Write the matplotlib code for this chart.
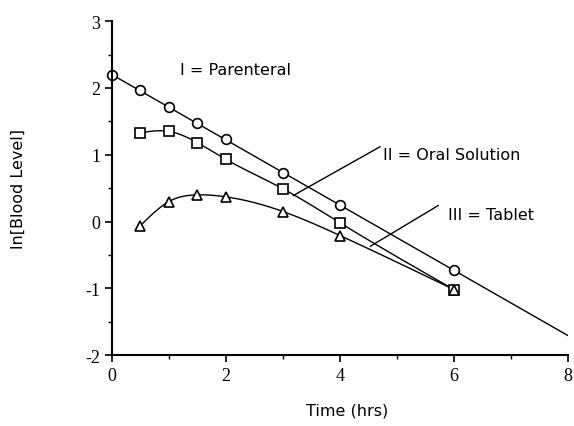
import numpy as np
import matplotlib
matplotlib.use("Agg")
import matplotlib.pyplot as plt

plt.rcParams["axes.unicode_minus"] = False

# data
t_par = [0, 0.5, 1, 1.5, 2, 3, 4, 6]
y_par = [2.2, 1.97, 1.72, 1.48, 1.23, 0.72, 0.25, -0.72]

t_oral = [0.5, 1, 1.5, 2, 3, 4, 6]
y_oral = [1.33, 1.35, 1.18, 0.93, 0.49, -0.02, -1.02]

t_tab = [0.5, 1, 1.5, 2, 3, 4, 6]
y_tab = [-0.06, 0.30, 0.40, 0.37, 0.15, -0.21, -1.02]

par_line_t = [0, 8]
par_line_y = [2.2, -1.71]


def spline(x, y, n=200):
    # natural cubic spline through the points
    x = np.asarray(x, float)
    y = np.asarray(y, float)
    m = len(x)
    h = np.diff(x)
    A = np.zeros((m, m))
    b = np.zeros(m)
    A[0, 0] = A[-1, -1] = 1
    for i in range(1, m - 1):
        A[i, i - 1] = h[i - 1]
        A[i, i] = 2 * (h[i - 1] + h[i])
        A[i, i + 1] = h[i]
        b[i] = 6 * ((y[i + 1] - y[i]) / h[i] - (y[i] - y[i - 1]) / h[i - 1])
    M = np.linalg.solve(A, b)
    xs = np.linspace(x[0], x[-1], n)
    idx = np.clip(np.searchsorted(x, xs) - 1, 0, m - 2)
    x0, x1 = x[idx], x[idx + 1]
    hh = x1 - x0
    ys = (M[idx] * (x1 - xs) ** 3 / (6 * hh) + M[idx + 1] * (xs - x0) ** 3 / (6 * hh)
          + (y[idx] / hh - M[idx] * hh / 6) * (x1 - xs)
          + (y[idx + 1] / hh - M[idx + 1] * hh / 6) * (xs - x0))
    return xs, ys


fig = plt.figure(figsize=(5.74, 4.27), dpi=100)
ax = fig.add_axes([0.195, 0.166, 0.795, 0.782])

ax.plot(par_line_t, par_line_y, color="black", lw=1)
xs, ys = spline(t_oral, y_oral)
ax.plot(xs, ys, color="black", lw=1)
xs, ys = spline(t_tab, y_tab)
ax.plot(xs, ys, color="black", lw=1)

mk = dict(ls="none", mfc="white", mec="black", mew=1.2, ms=7, clip_on=False)
ax.plot(t_par, y_par, marker="o", **mk)
ax.plot(t_oral, y_oral, marker="s", **dict(mk, ms=6.5))
ax.plot(t_tab, y_tab, marker="^", **mk)

# labels with pointer lines
sans = "DejaVu Sans"
fs = 11.5
ax.text(1.2, 2.28, "I = Parenteral", fontsize=fs, family=sans, va="center")
ax.plot([3.18, 4.70], [0.39, 1.12], color="black", lw=1)
ax.text(4.75, 1.0, "II = Oral Solution", fontsize=fs, family=sans, va="center")
ax.plot([4.53, 5.72], [-0.37, 0.24], color="black", lw=1)
ax.text(5.89, 0.1, "III = Tablet", fontsize=fs, family=sans, va="center")

ax.set_xlim(0, 8)
ax.set_ylim(-2, 3)
ax.set_xticks([0, 2, 4, 6, 8])
ax.set_xticks([1, 3, 5, 7], minor=True)
ax.set_yticks([-2, -1, 0, 1, 2, 3])
ax.set_yticks(np.arange(-1.5, 3, 1), minor=True)
for s in ["top", "right"]:
    ax.spines[s].set_visible(False)
for s in ["left", "bottom"]:
    ax.spines[s].set_linewidth(1.5)
ax.tick_params(which="major", direction="out", length=5, width=1.2, labelsize=13)
ax.tick_params(which="minor", direction="out", length=3, width=1.0)
for lab in ax.get_xticklabels() + ax.get_yticklabels():
    lab.set_family("Liberation Serif")

ax.set_xlabel("Time (hrs)", fontsize=fs, family=sans)
ax.set_ylabel("ln[Blood Level]", fontsize=fs, family=sans)
ax.xaxis.set_label_coords(0.515, -0.141)
ax.yaxis.set_label_coords(-0.189, 0.5)

fig.savefig("out.png", dpi=100)
